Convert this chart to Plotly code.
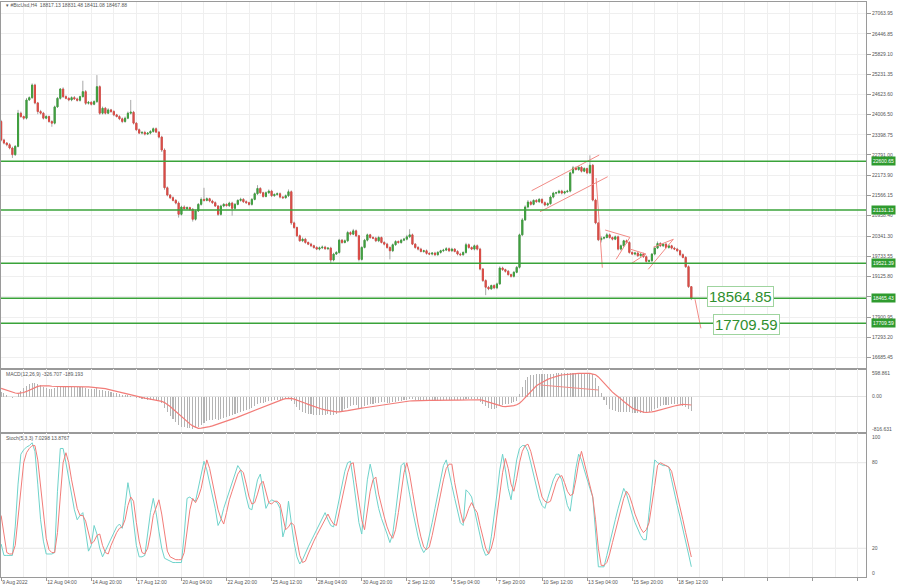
import plotly.graph_objects as go

# ---------------- data ----------------
first_open = 23800
closes = [
    23240, 23150, 23100, 23000, 22800, 23050, 24050, 23950, 23900, 24450,
    24520, 24900, 24360, 24100, 24050, 23900, 23950, 23800, 23750, 24240,
    24500, 24780, 24550, 24500, 24450, 24520, 24480, 24440, 24550, 24700,
    24350, 24380, 24320, 24400, 24850, 24050, 24200, 24050, 24150, 24100,
    24000, 23950, 23880, 23800, 23900, 24050, 24080, 23750, 23550, 23450,
    23470, 23420, 23450, 23500, 23580, 23480, 23330, 22940, 21800, 21580,
    21500, 21420, 21340, 21000, 21220, 21170, 21200, 21150, 20850, 21100,
    21300, 21450, 21420, 21470, 21400, 21350, 21250, 21000, 21250, 21300,
    21260, 21340, 21180, 21300, 21420, 21450, 21380, 21350, 21300, 21450,
    21620, 21780, 21650, 21540, 21650, 21700, 21560, 21600, 21620, 21520,
    21500, 21560, 21680, 20740, 20600, 20350, 20200, 20250, 20150, 20100,
    20050, 20000, 19950, 19990, 20010, 19960, 19980, 19620, 19800, 19850,
    20220, 20150, 20200, 20450, 20400, 20500, 20350, 19640, 20000, 20220,
    20380, 20300, 20280, 20200, 20300, 20150, 20100, 20000, 19900, 20080,
    20180, 20150, 20220, 20250, 20320, 20380, 20100, 20000, 19950, 19880,
    19900, 19820, 19800, 19830, 19780, 19850, 19900, 19920, 19960, 19900,
    19950, 19880, 19800, 19780, 19850, 20080, 20000, 19950, 20050, 19950,
    19350, 19000, 18800, 18750, 18850, 18780, 18900, 19380, 19330, 19280,
    19180, 19130, 19250, 19400, 20380, 20830, 21220, 21370, 21300, 21420,
    21380, 21450, 21350, 21280, 21320, 21520, 21640, 21650, 21700, 21640,
    21680, 21700, 22250, 22400, 22350, 22420, 22300, 22380, 22250, 22480,
    21430, 20740, 20230, 20280, 20300, 20380, 20300, 20250, 20320, 19950,
    20050, 20200, 20150, 19850, 19800, 19830, 19750, 19800, 19720, 19580,
    19600, 19800, 19980, 20120, 20050, 20100, 20000, 20050, 19980, 19950,
    19900, 19780, 19700, 19420, 18817.13, 18467.88,
]
upper_wick = [
    50, 40, 30, 50, 40, 40, 100, 50, 30, 60,
    40, 50, 40, 30, 50, 40, 50, 30, 40, 40,
    40, 30, 50, 40, 30, 40, 50, 40, 30, 330,
    50, 40, 30, 40, 350, 40, 50, 40, 50, 30,
    40, 30, 40, 40, 50, 50, 370, 40, 30, 40,
    40, 50, 30, 40, 40, 40, 30, 40, 50, 40,
    30, 40, 40, 50, 40, 50, 40, 30, 40, 40,
    40, 60, 350, 40, 30, 40, 40, 30, 40, 40,
    30, 40, 40, 40, 30, 50, 40, 40, 30, 40,
    40, 100, 40, 30, 40, 50, 40, 30, 40, 40,
    30, 40, 70, 40, 40, 30, 40, 50, 40, 30,
    40, 30, 40, 40, 50, 40, 30, 40, 40, 40,
    40, 30, 40, 50, 40, 60, 40, 30, 40, 40,
    40, 30, 40, 40, 50, 30, 40, 40, 30, 40,
    40, 30, 40, 40, 60, 170, 40, 30, 40, 40,
    30, 40, 40, 30, 40, 40, 30, 40, 50, 40,
    40, 30, 40, 40, 30, 60, 40, 30, 40, 40,
    40, 30, 40, 40, 30, 40, 40, 50, 40, 30,
    40, 30, 40, 40, 40, 60, 50, 60, 40, 30,
    40, 40, 30, 40, 40, 50, 40, 30, 40, 40,
    30, 40, 40, 60, 40, 30, 40, 40, 30, 300,
    40, 40, 30, 60, 40, 60, 40, 30, 40, 40,
    40, 30, 40, 40, 30, 40, 40, 30, 40, 40,
    40, 30, 60, 60, 40, 30, 40, 40, 30, 40,
    40, 30, 40, 40, 40, 14.35,
]
lower_wick = [
    40, 40, 50, 40, 100, 40, 30, 40, 50, 40,
    30, 40, 40, 80, 40, 40, 30, 40, 110, 40,
    30, 40, 40, 30, 40, 40, 30, 40, 40, 30,
    50, 40, 40, 30, 40, 50, 40, 40, 30, 40,
    40, 30, 40, 50, 40, 30, 40, 40, 40, 30,
    40, 40, 30, 40, 40, 30, 40, 60, 60, 40,
    40, 30, 40, 100, 40, 30, 40, 40, 70, 40,
    30, 40, 40, 30, 40, 40, 30, 50, 40, 40,
    30, 40, 220, 40, 30, 40, 40, 30, 40, 40,
    30, 40, 40, 40, 30, 40, 40, 30, 40, 40,
    40, 30, 40, 60, 40, 40, 30, 40, 40, 30,
    40, 40, 30, 40, 40, 30, 40, 100, 40, 30,
    40, 40, 30, 40, 40, 30, 40, 60, 40, 30,
    40, 40, 30, 40, 40, 30, 40, 40, 260, 40,
    30, 40, 40, 30, 40, 40, 30, 40, 40, 30,
    40, 40, 30, 40, 40, 30, 40, 40, 30, 40,
    40, 30, 40, 40, 30, 40, 40, 30, 40, 40,
    40, 40, 240, 40, 30, 40, 40, 30, 40, 40,
    30, 40, 40, 30, 40, 40, 30, 40, 40, 30,
    40, 40, 30, 40, 40, 30, 40, 40, 30, 40,
    40, 30, 40, 40, 30, 40, 40, 30, 40, 40,
    40, 40, 40, 80, 40, 30, 40, 40, 30, 40,
    40, 30, 40, 40, 30, 40, 40, 30, 40, 40,
    30, 40, 40, 30, 40, 40, 30, 40, 40, 30,
    40, 40, 30, 40, 40, 56.8,
]
macd_main = [
    100, 80, 40, -10, -20, -10, 60, 130, 190, 240,
    290, 320, 320, 290, 260, 230, 200, 185, 175, 190,
    215, 240, 245, 240, 235, 225, 215, 210, 220, 225,
    205, 185, 175, 170, 190, 160, 145, 130, 120, 110,
    95, 80, 60, 40, 30, 30, 20, 0, -25, -40,
    -50, -60, -65, -70, -70, -80, -100, -150, -260, -360,
    -440, -510, -570, -640, -680, -700, -710, -715, -730, -710,
    -680, -640, -600, -560, -540, -520, -505, -520, -500, -480,
    -460, -430, -420, -400, -370, -340, -315, -300, -280, -250,
    -210, -170, -150, -140, -120, -100, -95, -85, -75, -70,
    -65, -55, -35, -90, -160, -230, -300, -340, -370, -390,
    -405, -415, -420, -420, -415, -410, -400, -420, -410, -390,
    -350, -320, -290, -250, -220, -190, -200, -250, -250, -220,
    -190, -170, -160, -150, -135, -130, -130, -135, -140, -130,
    -115, -105, -95, -80, -70, -55, -60, -70, -80, -90,
    -95, -100, -105, -105, -105, -100, -95, -85, -75, -70,
    -65, -65, -70, -75, -75, -60, -55, -55, -50, -55,
    -110, -170, -220, -255, -270, -275, -265, -220, -190, -170,
    -160, -150, -130, -100, 60, 230, 370, 450, 490, 505,
    510, 515, 515, 515, 515, 520, 525, 530, 530, 530,
    530, 530, 535, 540, 545, 545, 545, 540, 535, 540,
    520, 420, 250, 80, -80, -200, -270, -310, -330, -345,
    -350, -345, -350, -360, -365, -370, -375, -375, -370, -370,
    -360, -330, -290, -250, -220, -200, -190, -180, -175, -170,
    -175, -190, -210, -240, -285, -326.707,
]
macd_signal = [
    190, 170, 150, 125, 100, 85, 78, 80, 95, 120,
    150, 185, 215, 235, 248, 252, 250, 245, 238, 232,
    228, 228, 230, 232, 233, 232, 230, 228, 226, 225,
    224, 222, 218, 214, 210, 205, 195, 182, 168, 152,
    136, 118, 100, 80, 62, 45, 30, 15, 2, -10,
    -22, -34, -45, -56, -66, -76, -88, -105, -135, -175,
    -225, -280, -340, -400, -460, -520, -575, -620, -665, -700,
    -720, -718, -710, -698, -682, -665, -645, -625, -605, -585,
    -562, -540, -515, -490, -465, -440, -415, -390, -365, -340,
    -315, -290, -262, -235, -205, -175, -150, -125, -100, -80,
    -60, -45, -35, -40, -55, -75, -100, -125, -150, -175,
    -200, -222, -245, -265, -285, -300, -315, -328, -338, -345,
    -345, -340, -330, -318, -305, -290, -278, -270, -262, -252,
    -242, -232, -220, -208, -196, -184, -172, -162, -152, -143,
    -134, -125, -117, -110, -104, -98, -93, -89, -86, -84,
    -83, -83, -84, -85, -86, -87, -87, -86, -84, -82,
    -80, -78, -76, -75, -74, -72, -70, -68, -66, -64,
    -70, -85, -105, -130, -155, -178, -198, -212, -222, -226,
    -222, -214, -202, -185, -150, -90, -20, 60, 130, 200,
    250, 290, 330, 365, 395, 420, 445, 465, 482, 495,
    505, 512, 518, 524, 528, 532, 534, 534, 533, 530,
    515, 500, 450, 380, 300, 230, 165, 105, 50, 5,
    -50, -110, -165, -215, -258, -290, -315, -335, -350, -360,
    -358, -348, -335, -320, -303, -285, -266, -248, -230, -212,
    -196, -180, -175, -178, -184, -189.193,
]
stoch_k = [
    23, 15, 15, 15, 15, 35, 65, 86, 89, 91,
    92, 94, 88, 65, 40, 25, 16, 16, 16, 17,
    60, 90, 90, 80, 68, 57, 47, 40, 43, 45,
    30, 18, 22, 36, 30, 20, 14, 18, 22, 27,
    31, 35, 37, 34, 50, 66, 55, 38, 22, 14,
    14, 15, 30, 45, 55, 45, 32, 20, 13, 12,
    11, 10, 10, 10, 10, 30, 55, 56, 54, 53,
    62, 72, 81, 75, 66, 57, 48, 36, 40, 48,
    54, 60, 66, 71, 78, 75, 65, 56, 48, 47,
    58, 68, 72, 60, 48, 52, 54, 53, 52, 48,
    28, 35, 53, 38, 24, 14, 9, 12, 17, 21,
    25, 29, 33, 37, 42, 45, 40, 36, 35, 45,
    55, 64, 74, 80, 81, 68, 52, 38, 30, 48,
    68, 79, 70, 58, 48, 41, 36, 30, 24, 30,
    45, 60, 78, 80, 70, 58, 47, 37, 28, 21,
    17, 20, 28, 38, 48, 58, 68, 78, 82, 74,
    64, 55, 46, 38, 36, 61, 59, 56, 47, 38,
    28, 20, 15, 16, 28, 42, 58, 75, 86, 75,
    62, 54, 70, 82, 90, 92, 92, 88, 80, 72,
    63, 55, 50, 48, 55, 62, 68, 72, 72, 68,
    58, 50, 46, 62, 76, 86, 82, 75, 68, 62,
    56, 30, 7, 7, 7, 15, 24, 33, 40, 48,
    56, 62, 58, 50, 44, 38, 33, 29, 26, 26,
    45, 65, 82, 80, 79, 78, 78, 77, 68, 58,
    50, 42, 34, 26, 16, 7.0298,
]
stoch_d = [
    43, 28, 17, 16, 16, 22, 40, 62, 80, 87,
    90, 92, 92, 82, 64, 43, 27, 19, 17, 17,
    31, 56, 80, 87, 80, 68, 57, 48, 43, 43,
    39, 31, 23, 25, 29, 30, 22, 17, 16, 22,
    27, 31, 34, 35, 40, 50, 56, 53, 38, 25,
    17, 16, 20, 30, 43, 49, 54, 44, 30, 18,
    14, 13, 12, 12, 12, 17, 32, 47, 55, 52,
    56, 62, 72, 82, 76, 66, 57, 47, 41, 37,
    45, 54, 60, 66, 72, 75, 73, 65, 56, 51,
    52, 58, 65, 67, 60, 52, 51, 53, 53, 51,
    42, 33, 35, 38, 36, 25, 15, 10, 11, 16,
    21, 25, 29, 33, 37, 41, 44, 40, 37, 36,
    45, 55, 64, 73, 79, 80, 66, 52, 40, 33,
    48, 60, 68, 70, 58, 49, 42, 35, 30, 27,
    33, 45, 61, 73, 80, 72, 60, 48, 37, 28,
    21, 19, 21, 29, 38, 48, 58, 68, 76, 79,
    79, 66, 55, 46, 38, 42, 48, 52, 48, 45,
    36, 27, 20, 16, 20, 28, 42, 58, 73, 83,
    76, 65, 60, 69, 80, 88, 92, 93, 88, 80,
    72, 63, 56, 53, 52, 53, 60, 66, 70, 71,
    66, 60, 57, 58, 68, 80, 88, 80, 72, 65,
    56, 40, 20, 8, 8, 10, 16, 24, 32, 40,
    48, 55, 60, 57, 51, 44, 39, 34, 31, 33,
    38, 50, 64, 78, 80, 79, 78, 77, 74, 66,
    58, 49, 40, 31, 22, 13.8767,
]

x_tick_bars = [0, 16, 32, 48, 64, 80, 96, 112, 128, 144, 160, 176, 192, 208, 224, 240, 256, 272, 288, 304]
x_tick_labels = ["9 Aug 2022", "12 Aug 04:00", "14 Aug 20:00", "17 Aug 12:00", "20 Aug 04:00",
                 "22 Aug 20:00", "25 Aug 12:00", "28 Aug 04:00", "30 Aug 20:00", "2 Sep 12:00",
                 "5 Sep 04:00", "7 Sep 20:00", "10 Sep 12:00", "13 Sep 04:00", "15 Sep 20:00",
                 "18 Sep 12:00", "", "", "", ""]
x_minor_bars = [8, 24, 40, 56, 72, 88, 104, 120, 136, 152, 168, 184, 200, 216, 232, 248, 264, 280, 296]

price_ticks = [27063.95, 26446.85, 25829.10, 25231.35, 24623.60, 24006.50, 23398.75, 22791.00,
               22173.90, 21566.15, 20958.40, 20341.30, 19733.55, 19125.80, 18518.05, 17900.95,
               17293.20, 16685.45]
price_tick_labels = ["27063.95", "26446.85", "25829.10", "25231.35", "24623.60", "24006.50",
                     "23398.75", "22791.00", "22173.90", "21566.15", "20958.40", "20341.30",
                     "19733.55", "19125.80", "", "17900.95", "17293.20", "16685.45"]

levels = [22600.65, 21131.13, 19521.39, 18465.43, 17709.59]
level_labels = ["22600.65", "21131.13", "19521.39", "18465.43", "17709.59"]

# drawn trend lines: (bar, price) pairs
trend_segments = [
    [(188.3, 21712), (212.3, 22789)],
    [(191.3, 21078), (215.3, 22134)],
    [(211.2, 22095), (213.4, 19389)],
    [(214.4, 20526), (223.2, 20306)],
    [(218.3, 19642), (223.2, 20306)],
    [(223.5, 19944), (228.9, 19802)],
    [(223.8, 19521), (228.9, 19802)],
    [(229.7, 19340), (238.6, 20246)],
    [(231.5, 20004), (238.6, 20246)],
    [(246.3, 18435), (248.4, 17560)],
]
macd_trend = [(191.4, 267), (212.0, 153)]

text_labels = [("18564.85", 262.6, 18520), ("17709.59", 264.6, 17690)]

macd_ticks = [534, 0, -743]
macd_tick_labels = ["598.861", "0.00", "-816.631"]
stoch_ticks = [98.2, 80, 20, 2.5]
stoch_tick_labels = ["100", "80", "20", "0"]
stoch_levels = [20, 80]

# ---------------- styling ----------------
GREEN = "#3f9f3f"
RED = "#db4b45"
WICK = "#a8a8a8"
LEVEL = "#3aa33a"
TREND = "#f28b86"
GRID = "#efefef"
FRAME = "#9a9a9a"
TXT = "#555555"
FONT = "Liberation Sans, Arial, sans-serif"

bars = list(range(len(closes)))
opens = [first_open] + closes[:-1]
highs = [max(o, c) + w for o, c, w in zip(opens, closes, upper_wick)]
lows = [min(o, c) - w for o, c, w in zip(opens, closes, lower_wick)]
body_hi = [max(o, c) for o, c in zip(opens, closes)]
body_lo = [min(o, c) for o, c in zip(opens, closes)]

fig = go.Figure()

# wicks
fig.add_trace(go.Candlestick(
    x=bars, open=opens, high=highs, low=lows, close=closes, xaxis="x", yaxis="y",
    increasing=dict(line=dict(color=WICK, width=1), fillcolor=WICK),
    decreasing=dict(line=dict(color=WICK, width=1), fillcolor=WICK),
    whiskerwidth=0, hoverinfo="skip", showlegend=False))
# bodies
fig.add_trace(go.Candlestick(
    x=bars, open=opens, high=body_hi, low=body_lo, close=closes, xaxis="x", yaxis="y",
    increasing=dict(line=dict(color=GREEN, width=1), fillcolor=GREEN),
    decreasing=dict(line=dict(color=RED, width=1), fillcolor=RED),
    whiskerwidth=0, hoverinfo="skip", showlegend=False))

# trend lines
tx, ty = [], []
for seg in trend_segments:
    for (bx, py) in seg:
        tx.append(bx)
        ty.append(py)
    tx.append(None)
    ty.append(None)
fig.add_trace(go.Scatter(x=tx, y=ty, mode="lines", line=dict(color=TREND, width=1),
                         xaxis="x", yaxis="y", hoverinfo="skip", showlegend=False))

# MACD
fig.add_trace(go.Bar(x=bars, y=macd_main, marker=dict(color="#b4b4b4", line=dict(width=0)),
                     width=0.38, xaxis="x2", yaxis="y2", hoverinfo="skip", showlegend=False))
fig.add_trace(go.Scatter(x=bars, y=macd_signal, mode="lines", line=dict(color="#f27c78", width=1.2),
                         xaxis="x2", yaxis="y2", hoverinfo="skip", showlegend=False))
fig.add_trace(go.Scatter(x=[p[0] for p in macd_trend], y=[p[1] for p in macd_trend], mode="lines",
                         line=dict(color=TREND, width=1), xaxis="x2", yaxis="y2",
                         hoverinfo="skip", showlegend=False))

# Stochastic
fig.add_trace(go.Scatter(x=bars, y=stoch_k, mode="lines", line=dict(color="#6fd3cb", width=1),
                         xaxis="x3", yaxis="y3", hoverinfo="skip", showlegend=False))
fig.add_trace(go.Scatter(x=bars, y=stoch_d, mode="lines", line=dict(color="#f27c78", width=1),
                         xaxis="x3", yaxis="y3", hoverinfo="skip", showlegend=False))

XR = [-0.05, 307]
tickfont = dict(family=FONT, size=5, color=TXT)

def xaxis_cfg(anchor, labels):
    cfg = dict(anchor=anchor, domain=[0, 1], range=XR, tickmode="array", tickvals=x_tick_bars,
               ticktext=x_tick_labels, showticklabels=labels, showgrid=True, gridcolor=GRID,
               gridwidth=1, zeroline=False, showline=True, mirror=True, linecolor=FRAME,
               linewidth=1, tickfont=tickfont, fixedrange=True,
               minor=dict(tickmode="array", tickvals=x_minor_bars, showgrid=True, gridcolor=GRID,
                          ticks=""),
               rangeslider=dict(visible=False))
    if labels:
        cfg.update(ticks="outside", ticklen=3, tickcolor=FRAME, ticklabelposition="outside right")
    else:
        cfg.update(ticks="")
    return cfg

fig.update_layout(
    width=900, height=585,
    margin=dict(l=1, r=34, t=2, b=8),
    paper_bgcolor="white", plot_bgcolor="white",
    boxmode="overlay", boxgap=0.45,
    bargap=0,
    showlegend=False,
    xaxis=xaxis_cfg("y", False),
    xaxis2=dict(xaxis_cfg("y2", False), matches="x"),
    xaxis3=dict(xaxis_cfg("y3", True), matches="x"),
    yaxis=dict(domain=[0.3617, 1], range=[16332, 27405], side="right", tickmode="array",
               tickvals=price_ticks, ticktext=price_tick_labels, showgrid=True, gridcolor=GRID,
               zeroline=False, showline=True, mirror=True, linecolor=FRAME, ticks="outside",
               ticklen=4, tickcolor=FRAME, tickfont=tickfont, fixedrange=True),
    yaxis2=dict(domain=[0.2504, 0.3617], range=[-828, 631], side="right", tickmode="array",
                tickvals=macd_ticks, ticktext=macd_tick_labels, showgrid=False, zeroline=True,
                zerolinecolor="#e4e4e4", zerolinewidth=1, showline=True, mirror=True,
                linecolor=FRAME, ticks="outside", ticklen=4, tickcolor="rgba(0,0,0,0)",
                tickfont=tickfont, fixedrange=True),
    yaxis3=dict(domain=[0, 0.2504], range=[-0.14, 100.84], side="right", tickmode="array",
                tickvals=stoch_ticks, ticktext=stoch_tick_labels, showgrid=False, zeroline=False,
                showline=True, mirror=True, linecolor=FRAME, ticks="outside", ticklen=4,
                tickcolor="rgba(0,0,0,0)", tickfont=tickfont, fixedrange=True),
)

shapes = []
for lv in levels:
    shapes.append(dict(type="line", xref="paper", x0=0, x1=1, yref="y", y0=lv, y1=lv,
                       line=dict(color=LEVEL, width=1.5), layer="above"))
for lv in stoch_levels:
    shapes.append(dict(type="line", xref="paper", x0=0, x1=1, yref="y3", y0=lv, y1=lv,
                       line=dict(color="#e6e6e6", width=1), layer="below"))
fig.update_layout(shapes=shapes)

ann = []
for lv, lab in zip(levels, level_labels):
    ann.append(dict(xref="paper", x=1, xanchor="left", xshift=5, yref="y", y=lv, yanchor="middle",
                    text=lab, showarrow=False, bgcolor="#2f9b2f", borderpad=1,
                    font=dict(family=FONT, size=5, color="white")))
for txt, bx, py in text_labels:
    ann.append(dict(xref="x", x=bx, yref="y", y=py, text=txt, showarrow=False,
                    font=dict(family=FONT, size=15, color="#2f8f2f"), bgcolor="white",
                    bordercolor="#9fd49f", borderwidth=1, borderpad=1))
ann.append(dict(xref="paper", x=0.004, xanchor="left", yref="paper", y=0.9945, yanchor="middle",
                text="▾ #BtcUsd,H4  18817.13 18831.48 18411.08 18467.88", showarrow=False,
                font=dict(family=FONT, size=5, color=TXT)))
ann.append(dict(xref="paper", x=0.003, xanchor="left", yref="paper", y=0.3525, yanchor="middle",
                text="MACD(12,26,9) -326.707 -189.193", showarrow=False,
                font=dict(family=FONT, size=5, color=TXT)))
ann.append(dict(xref="paper", x=0.003, xanchor="left", yref="paper", y=0.2425, yanchor="middle",
                text="Stoch(5,3,3) 7.0298 13.8767", showarrow=False,
                font=dict(family=FONT, size=5, color=TXT)))
fig.update_layout(annotations=ann)

fig.write_html("out.html",
               config={"displayModeBar": False, "staticPlot": True},
               post_script="document.body.style.margin='0px';document.body.style.padding='0px';"
                           "document.documentElement.style.overflow='hidden';")
